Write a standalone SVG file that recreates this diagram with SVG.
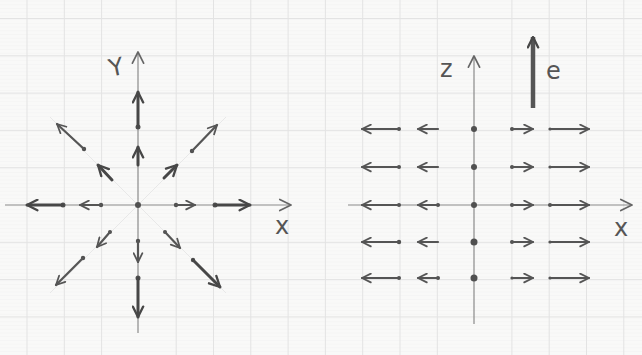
<svg xmlns="http://www.w3.org/2000/svg" width="642" height="355" viewBox="0 0 642 355">
<defs>
<pattern id="minor" x="0" y="0.5" width="642" height="3.73" patternUnits="userSpaceOnUse">
<line x1="0" y1="0" x2="642" y2="0" stroke="#ececec" stroke-width="0.6"/>
</pattern>
<marker id="ah" viewBox="0 0 10 10" refX="9" refY="5" markerWidth="11" markerHeight="11" markerUnits="userSpaceOnUse" orient="auto">
<path d="M1,1 L9,5 L1,9" fill="none" stroke="#555" stroke-width="1.6" stroke-linecap="round" stroke-linejoin="round"/>
</marker>
<marker id="ahb" viewBox="0 0 10 10" refX="9" refY="5" markerWidth="13" markerHeight="13" markerUnits="userSpaceOnUse" orient="auto">
<path d="M1,1 L9,5 L1,9" fill="none" stroke="#474747" stroke-width="1.8" stroke-linecap="round" stroke-linejoin="round"/>
</marker>
<marker id="axh" viewBox="0 0 10 10" refX="9" refY="5" markerWidth="14" markerHeight="14" markerUnits="userSpaceOnUse" orient="auto">
<path d="M1,1 L9,5 L1,9" fill="none" stroke="#666" stroke-width="1.2" stroke-linecap="round" stroke-linejoin="round"/>
</marker>
</defs>
<style>
.maj{stroke:#e3e3e3;stroke-width:1}
.axis{stroke:#8a8a8a;stroke-width:1.2;fill:none}
.guide{stroke:#e8e8e8;stroke-width:1}
.a{stroke:#555;stroke-width:2.2;fill:none;marker-end:url(#ah);stroke-linecap:round}
.ab{stroke:#474747;stroke-width:3;fill:none;marker-end:url(#ahb);stroke-linecap:round}
.d{fill:#505050}
.lbl{font-family:"DejaVu Sans",sans-serif;font-size:24px;fill:#555}
</style>
<rect width="642" height="355" fill="#f9f9f8"/>
<rect width="642" height="355" fill="url(#minor)"/>
<g id="grid">
<line class="maj" x1="27" y1="0" x2="27" y2="355"/>
<line class="maj" x1="64.3" y1="0" x2="64.3" y2="355"/>
<line class="maj" x1="101.6" y1="0" x2="101.6" y2="355"/>
<line class="maj" x1="176.2" y1="0" x2="176.2" y2="355"/>
<line class="maj" x1="213.5" y1="0" x2="213.5" y2="355"/>
<line class="maj" x1="250.8" y1="0" x2="250.8" y2="355"/>
<line class="maj" x1="288.1" y1="0" x2="288.1" y2="355"/>
<line class="maj" x1="325.4" y1="0" x2="325.4" y2="355"/>
<line class="maj" x1="362.7" y1="0" x2="362.7" y2="355"/>
<line class="maj" x1="400" y1="0" x2="400" y2="355"/>
<line class="maj" x1="437.3" y1="0" x2="437.3" y2="355"/>
<line class="maj" x1="511.9" y1="0" x2="511.9" y2="355"/>
<line class="maj" x1="549.2" y1="0" x2="549.2" y2="355"/>
<line class="maj" x1="586.5" y1="0" x2="586.5" y2="355"/>
<line class="maj" x1="623.8" y1="0" x2="623.8" y2="355"/>
<line class="maj" x1="0" y1="18.5" x2="642" y2="18.5"/>
<line class="maj" x1="0" y1="55.8" x2="642" y2="55.8"/>
<line class="maj" x1="0" y1="93.1" x2="642" y2="93.1"/>
<line class="maj" x1="0" y1="130.4" x2="642" y2="130.4"/>
<line class="maj" x1="0" y1="167.7" x2="642" y2="167.7"/>
<line class="maj" x1="0" y1="242.3" x2="642" y2="242.3"/>
<line class="maj" x1="0" y1="279.6" x2="642" y2="279.6"/>
<line class="maj" x1="0" y1="316.9" x2="642" y2="316.9"/>
</g>
<g id="left-diagram">
<line class="guide" x1="50" y1="117" x2="226" y2="293"/>
<line class="guide" x1="50" y1="293" x2="226" y2="117"/>
<line class="axis" x1="5" y1="205" x2="291" y2="205" marker-end="url(#axh)"/>
<line class="axis" x1="138" y1="333" x2="138" y2="52" marker-end="url(#axh)"/>
<text class="lbl" x="109" y="75" transform="rotate(-12 118 67)">Y</text>
<text class="lbl" x="275" y="234">x</text>
<circle class="d" cx="138" cy="205" r="3"/>
<circle class="d" cx="176" cy="205" r="2.2"/><line class="a" x1="176" y1="205" x2="195" y2="205"/>
<circle class="d" cx="215" cy="205" r="2.5"/><line class="ab" x1="215" y1="205" x2="250" y2="205"/>
<circle class="d" cx="101" cy="205" r="2.2"/><line class="a" x1="101" y1="205" x2="80" y2="205"/>
<circle class="d" cx="63" cy="205" r="2.5"/><line class="ab" x1="63" y1="205" x2="27" y2="205"/>
<line class="ab" x1="138" y1="165" x2="138" y2="147"/>
<circle class="d" cx="138" cy="127" r="2.5"/><line class="ab" x1="138" y1="127" x2="138" y2="92"/>
<circle class="d" cx="138" cy="241" r="2.2"/><line class="a" x1="138" y1="241" x2="138" y2="262"/>
<circle class="d" cx="138" cy="278" r="2.5"/><line class="ab" x1="138" y1="278" x2="138" y2="317"/>
<line class="ab" x1="164" y1="178" x2="177" y2="165"/>
<circle class="d" cx="192" cy="151" r="2.2"/><line class="a" x1="192" y1="151" x2="217" y2="125"/>
<line class="ab" x1="112" y1="180" x2="98" y2="165"/>
<circle class="d" cx="84" cy="149" r="2.2"/><line class="a" x1="84" y1="149" x2="57" y2="124"/>
<circle class="d" cx="110" cy="232" r="2"/><line class="a" x1="110" y1="232" x2="97" y2="247"/>
<circle class="d" cx="83" cy="258" r="2.2"/><line class="a" x1="83" y1="258" x2="56" y2="285"/>
<circle class="d" cx="165" cy="232" r="2"/><line class="a" x1="165" y1="232" x2="180" y2="248"/>
<circle class="d" cx="193" cy="260" r="2.2"/><line class="ab" x1="193" y1="260" x2="220" y2="287"/>
</g>
<g id="right-diagram">
<line class="axis" x1="348" y1="205" x2="632" y2="205" marker-end="url(#axh)"/>
<line class="axis" x1="474" y1="324" x2="474" y2="56" marker-end="url(#axh)"/>
<text class="lbl" x="440" y="77">z</text>
<text class="lbl" x="614" y="236">x</text>
<line x1="533" y1="108" x2="533" y2="37" stroke="#555" stroke-width="4.5" marker-end="url(#ahb)"/>
<text class="lbl" x="546" y="79">e</text>
<g id="row1">
<circle class="d" cx="399" cy="129" r="2"/><line class="a" x1="399" y1="129" x2="362" y2="129"/>
<line class="a" x1="438" y1="129" x2="418" y2="129"/>
<circle class="d" cx="474" cy="129" r="3"/>
<circle class="d" cx="512" cy="129" r="2"/><line class="a" x1="512" y1="129" x2="533" y2="129"/>
<circle class="d" cx="550" cy="129" r="1.6"/><line class="a" x1="550" y1="129" x2="589" y2="129"/>
</g>
<g id="row2">
<circle class="d" cx="399" cy="167" r="2"/><line class="a" x1="399" y1="167" x2="362" y2="167"/>
<line class="a" x1="438" y1="167" x2="418" y2="167"/>
<circle class="d" cx="474" cy="167" r="3"/>
<circle class="d" cx="512" cy="167" r="2"/><line class="a" x1="512" y1="167" x2="533" y2="167"/>
<circle class="d" cx="550" cy="167" r="1.6"/><line class="a" x1="550" y1="167" x2="589" y2="167"/>
</g>
<g id="row3">
<circle class="d" cx="399" cy="205" r="2"/><line class="a" x1="399" y1="205" x2="362" y2="205"/>
<circle class="d" cx="438" cy="205" r="2"/><line class="a" x1="438" y1="205" x2="418" y2="205"/>
<circle class="d" cx="474" cy="205" r="3"/>
<circle class="d" cx="512" cy="205" r="2"/><line class="a" x1="512" y1="205" x2="533" y2="205"/>
<circle class="d" cx="550" cy="205" r="2"/><line class="a" x1="550" y1="205" x2="589" y2="205"/>
</g>
<g id="row4">
<circle class="d" cx="399" cy="242" r="2.2"/><line class="a" x1="399" y1="242" x2="362" y2="242"/>
<line class="a" x1="438" y1="242" x2="418" y2="242"/>
<circle class="d" cx="474" cy="242" r="3.5"/>
<circle class="d" cx="512" cy="242" r="2"/><line class="a" x1="512" y1="242" x2="533" y2="242"/>
<circle class="d" cx="550" cy="242" r="1.6"/><line class="a" x1="550" y1="242" x2="589" y2="242"/>
</g>
<g id="row5">
<circle class="d" cx="399" cy="278" r="2"/><line class="a" x1="399" y1="278" x2="362" y2="278"/>
<circle class="d" cx="438" cy="278" r="2"/><line class="a" x1="438" y1="278" x2="418" y2="278"/>
<circle class="d" cx="474" cy="278" r="3.5"/>
<circle class="d" cx="512" cy="278" r="1.6"/><line class="a" x1="512" y1="278" x2="533" y2="278"/>
<circle class="d" cx="550" cy="278" r="1.6"/><line class="a" x1="550" y1="278" x2="589" y2="278"/>
</g>
</g>
</svg>
